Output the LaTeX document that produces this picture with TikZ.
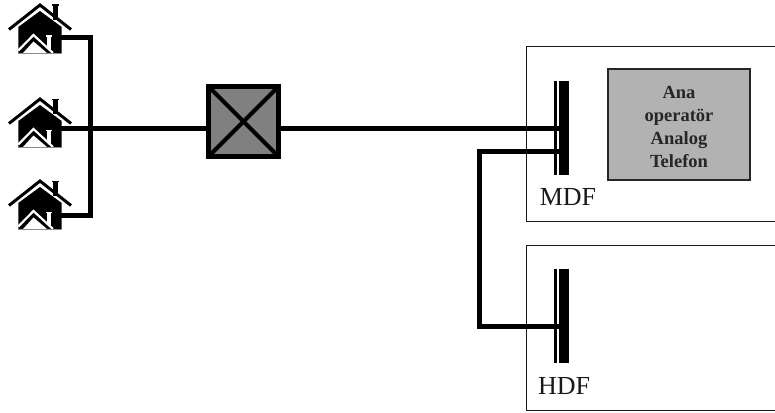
\documentclass[tikz,border=0pt]{standalone}
\usepackage{fontspec}
\setmainfont{Liberation Serif}
\tikzset{
  wire/.style={line width=5pt,black,line join=miter},
  panel/.style={draw=black!90,line width=1.1pt,fill=white},
  thinbar/.style={fill=black,draw=none,inner sep=0pt,minimum width=3pt,minimum height=94pt},
  thickbar/.style={fill=black,draw=none,inner sep=0pt,minimum width=10pt,minimum height=94pt},
  mainlabel/.style={font=\fontsize{26}{28}\selectfont,inner sep=0pt,text=black!90},
  operator/.style={draw=black!85,line width=1.1pt,fill=black!30,inner sep=0pt,minimum width=142pt,minimum height=111pt},
  optext/.style={inner sep=0pt,align=center,font=\fontsize{18.5}{23.3}\selectfont\bfseries,text=black!85},
  switchbox/.style={draw=black,line width=5pt,fill=black!50,inner sep=0pt,minimum width=70pt,minimum height=70pt},
  house/.pic={
    \fill[black] (18.3,27) -- (40,11) -- (61.7,27) -- (61.7,53) -- (18.3,53) -- cycle;
    \fill[black] (52.5,5) rectangle (57.5,20);
    \fill[black] (51.5,4.5) rectangle (58.5,6);
    \draw[black,line width=3pt,line join=miter] (9,29.5) -- (40,5) -- (71,29.5);
    \fill[white] (23,53) -- (33.5,41.5) -- (47,53) -- cycle;
    \draw[white,line width=2.2pt,line join=miter] (18.3,50.5) -- (33.5,35) -- (53,53);
    \fill[white] (46.7,36) rectangle (51.2,49);
    \fill[white] (45.7,35.5) rectangle (52.2,36.6);
    \draw[black!45,line width=.8pt] (18.3,53.2) -- (61.7,53.2);
  }
}
\begin{document}
\begin{tikzpicture}[x=1pt,y=-1pt]
\useasboundingbox (0,0) rectangle (775,412);
\fill[white] (0,0) rectangle (775,412);
% panels (open past the right edge)
\node[panel,inner sep=0pt,minimum width=260pt,minimum height=175pt,anchor=north west] (topbox) at (525.5,46) {};
\node[panel,inner sep=0pt,minimum width=260pt,minimum height=165pt,anchor=north west] (botbox) at (525.5,245) {};
% houses
\pic at (0,0) {house};
\pic at (0,94) {house};
\pic at (0,176) {house};
\coordinate (h1) at (60,38);
\coordinate (h2) at (60,128);
\coordinate (h3) at (60,215);
\coordinate (hubtop) at (90.5,38);
\coordinate (hubbot) at (90.5,215);
% switch
\node[switchbox] (sw) at (243.5,121.5) {};
\draw[black,line width=4pt,shorten >=1.8pt,shorten <=1.8pt] (sw.north west) -- (sw.south east);
\draw[black,line width=4pt,shorten >=1.8pt,shorten <=1.8pt] (sw.north east) -- (sw.south west);
% frames
\node[thinbar] (mdfthin) at (555.2,128) {};
\node[thickbar] (mdf) at (564.2,128) {};
\node[thinbar] (hdfthin) at (555.2,316) {};
\node[thickbar] (hdf) at (564.2,316) {};
\coordinate (j1) at (479,151);
\coordinate (j2) at (479,326);
% wires
\draw[wire] (h1) -- (hubtop) -- (hubbot) -- (h3);
\draw[wire] (h2) -- (h2-|sw.west);
\draw[wire] (h2-|sw.east) -- (h2-|mdf.west);
\draw[wire] (j1-|mdf.west) -- (j1) -- (j2) -- (j2-|hdf.west);
% operator
\node[operator] (op) at (679,124.5) {};
\node[optext] (optxt) at (679,127) {Ana\\operatör\\Analog\\Telefon};
% labels
\node[mainlabel] (mdflabel) at (568,197) {MDF};
\node[mainlabel] (hdflabel) at (564,386) {HDF};
\end{tikzpicture}
\end{document}
